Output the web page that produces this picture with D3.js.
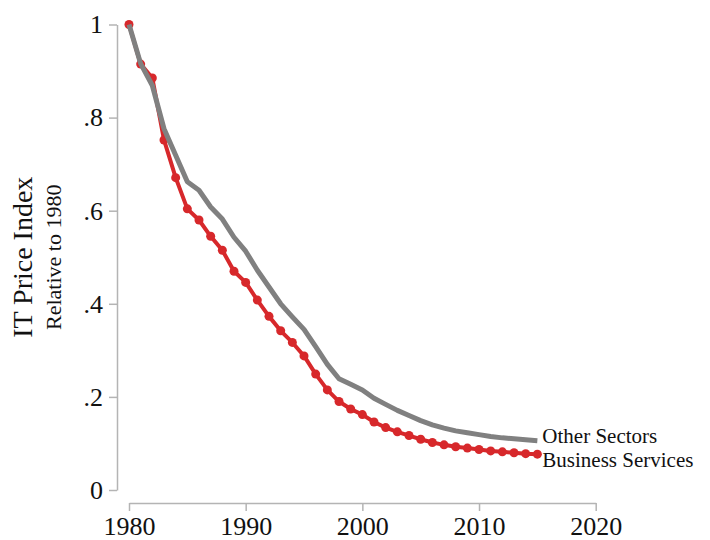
<!DOCTYPE html>
<html>
<head>
<meta charset="utf-8">
<script src="https://cdn.jsdelivr.net/npm/d3@7"></script>
<style>
	body { margin: 0; background: #fff; }
	svg text { font-family: "Liberation Serif", "Times New Roman", serif; fill: #111; }
</style>
</head>
<body>
<div id="chart"></div>
<script>
var years = d3.range(1980, 2016);

var businessServices = [1.000, 0.915, 0.885, 0.752, 0.671, 0.604, 0.580, 0.545, 0.515, 0.470,
	0.446, 0.408, 0.373, 0.342, 0.317, 0.288, 0.249, 0.215, 0.190, 0.174,
	0.162, 0.146, 0.134, 0.125, 0.117, 0.109, 0.102, 0.097, 0.093, 0.090,
	0.087, 0.084, 0.082, 0.080, 0.078, 0.077];

var otherSectors = [1.000, 0.916, 0.869, 0.776, 0.719, 0.662, 0.644, 0.608, 0.582, 0.543,
	0.513, 0.472, 0.436, 0.400, 0.372, 0.345, 0.308, 0.270, 0.239, 0.227,
	0.215, 0.197, 0.184, 0.171, 0.160, 0.149, 0.140, 0.133, 0.127, 0.123,
	0.119, 0.115, 0.112, 0.110, 0.108, 0.106];

var xTicks = [1980, 1990, 2000, 2010, 2020];
var yTicks = [0, 0.2, 0.4, 0.6, 0.8, 1];

var width = 710, height = 540;
var serif = "'Liberation Serif', 'Times New Roman', serif";

var x = d3.scaleLinear().domain([1980, 2020]).range([129, 595.7]);
var y = d3.scaleLinear().domain([0, 1]).range([490, 24.5]);

var svg = d3.select("#chart").append("svg")
	.attr("width", width)
	.attr("height", height);

//y axis
var yAxis = svg.append("g")
	.attr("transform", "translate(117,0)")
	.call(d3.axisLeft(y)
		.tickValues(yTicks)
		.tickSize(8)
		.tickSizeOuter(0)
		.tickPadding(6)
		.tickFormat(function(d) {
			if (d === 0) return "0";
			if (d === 1) return "1";
			return d3.format(".1f")(d).replace(/^0/, "");
		}));

//x axis
var xAxis = svg.append("g")
	.attr("transform", "translate(0,503)")
	.call(d3.axisBottom(x)
		.tickValues(xTicks)
		.tickSize(8)
		.tickSizeOuter(0)
		.tickPadding(6)
		.tickFormat(d3.format("d")));

svg.selectAll("g").attr("font-family", serif).attr("font-size", 26);

svg.selectAll(".domain, .tick line")
	.attr("stroke", "#b4b4b4")
	.attr("stroke-width", 1.5);

//axis titles
svg.append("text")
	.attr("transform", "translate(32," + ((y(0) + y(1)) / 2) + ") rotate(-90)")
	.attr("text-anchor", "middle")
	.attr("font-size", "28px")
	.text("IT Price Index");

svg.append("text")
	.attr("transform", "translate(61," + ((y(0) + y(1)) / 2) + ") rotate(-90)")
	.attr("text-anchor", "middle")
	.attr("font-size", "22px")
	.text("Relative to 1980");

//lines
var line = d3.line()
	.x(function(d) { return x(d[0]); })
	.y(function(d) { return y(d[1]); });

var bsData = years.map(function(yr, i) { return [yr, businessServices[i]]; });
var osData = years.map(function(yr, i) { return [yr, otherSectors[i]]; });

svg.append("path")
	.datum(bsData)
	.attr("fill", "none")
	.attr("stroke", "#d7282b")
	.attr("stroke-width", 4)
	.attr("stroke-linejoin", "round")
	.attr("d", line);

svg.selectAll(".bsdot")
	.data(bsData)
	.enter()
	.append("circle")
	.attr("class", "bsdot")
	.attr("cx", function(d) { return x(d[0]); })
	.attr("cy", function(d) { return y(d[1]); })
	.attr("r", 4.5)
	.attr("fill", "#d7282b");

svg.append("path")
	.datum(osData)
	.attr("fill", "none")
	.attr("stroke", "#808080")
	.attr("stroke-width", 5)
	.attr("stroke-linejoin", "round")
	.attr("d", line);

//series labels
var last = years.length - 1;
svg.append("text")
	.attr("x", x(years[last]) + 5)
	.attr("y", y(otherSectors[last]) + 2)
	.attr("font-size", "21px")
	.text("Other Sectors");

svg.append("text")
	.attr("x", x(years[last]) + 5)
	.attr("y", y(businessServices[last]) + 12.5)
	.attr("font-size", "21px")
	.text("Business Services");
</script>
</body>
</html>
